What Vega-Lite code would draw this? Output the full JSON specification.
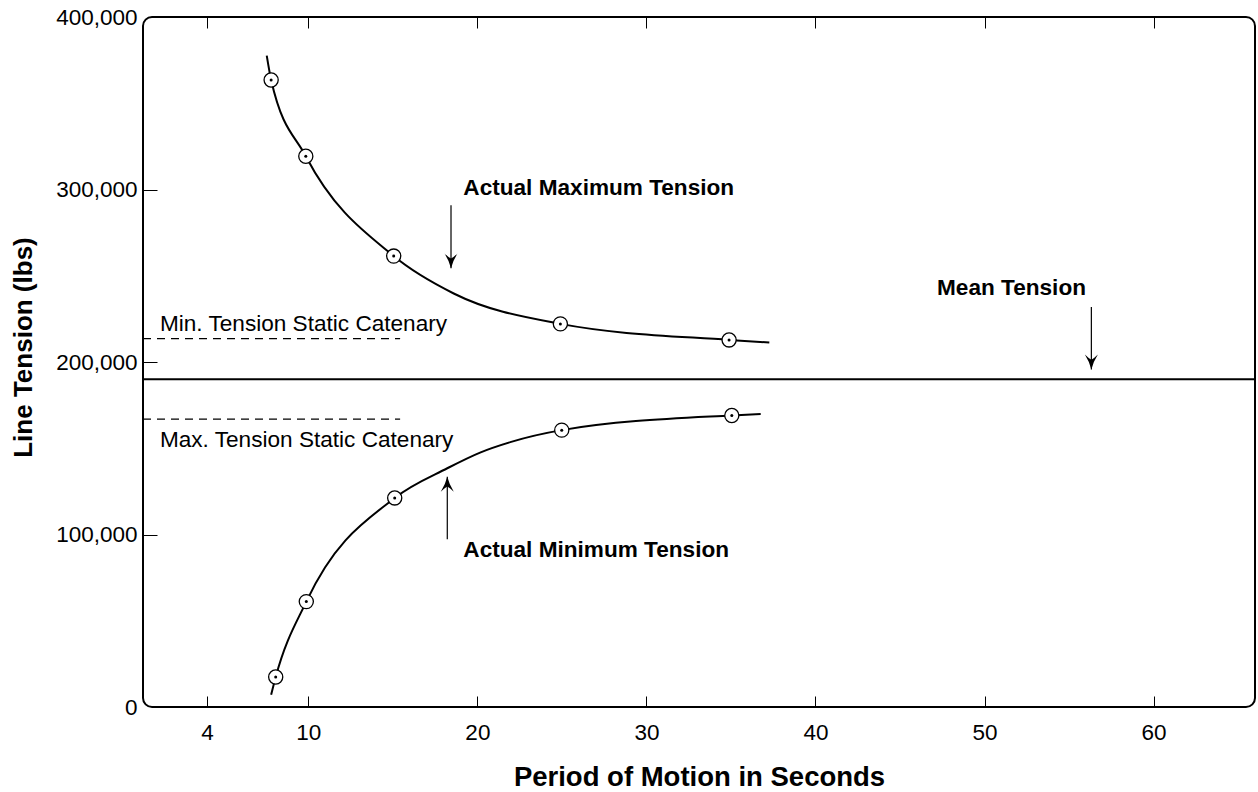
{
  "$schema": "https://vega.github.io/schema/vega-lite/v6.json",
  "width": 1112,
  "height": 690,
  "autosize": {"type": "none"},
  "padding": {"left": 143, "top": 17, "right": 3, "bottom": 85},
  "background": "white",
  "config": {
    "font": "Liberation Sans",
    "view": {"stroke": "#000", "strokeWidth": 2, "cornerRadius": 9},
    "axis": {"grid": false, "domain": false, "tickColor": "#000", "labelColor": "#000", "titleColor": "#000"}
  },
  "datasets": {
    "curves": [
      {"series": "Actual Maximum Tension", "t": 7.54, "lbs": 377600, "measured": false},
      {"series": "Actual Maximum Tension", "t": 7.8, "lbs": 363500, "measured": true},
      {"series": "Actual Maximum Tension", "t": 9.85, "lbs": 319300, "measured": true},
      {"series": "Actual Maximum Tension", "t": 15.05, "lbs": 261400, "measured": true},
      {"series": "Actual Maximum Tension", "t": 18.6, "lbs": 239700, "measured": false},
      {"series": "Actual Maximum Tension", "t": 24.91, "lbs": 222100, "measured": true},
      {"series": "Actual Maximum Tension", "t": 34.89, "lbs": 212800, "measured": true},
      {"series": "Actual Maximum Tension", "t": 37.27, "lbs": 211300, "measured": false},
      {"series": "Actual Minimum Tension", "t": 7.8, "lbs": 7100, "measured": false},
      {"series": "Actual Minimum Tension", "t": 8.07, "lbs": 17400, "measured": true},
      {"series": "Actual Minimum Tension", "t": 9.88, "lbs": 61100, "measured": true},
      {"series": "Actual Minimum Tension", "t": 15.11, "lbs": 121200, "measured": true},
      {"series": "Actual Minimum Tension", "t": 18.22, "lbs": 138400, "measured": false},
      {"series": "Actual Minimum Tension", "t": 20.16, "lbs": 147500, "measured": false},
      {"series": "Actual Minimum Tension", "t": 22.0, "lbs": 153700, "measured": false},
      {"series": "Actual Minimum Tension", "t": 24.99, "lbs": 160500, "measured": true},
      {"series": "Actual Minimum Tension", "t": 35.05, "lbs": 169000, "measured": true},
      {"series": "Actual Minimum Tension", "t": 36.76, "lbs": 169800, "measured": false}
    ],
    "static": [
      {"name": "Min. Tension Static Catenary", "t": 0.22, "t2": 15.43, "lbs": 213600},
      {"name": "Max. Tension Static Catenary", "t": 0.22, "t2": 15.43, "lbs": 166900}
    ],
    "mean": [{"name": "Mean Tension", "lbs": 190000}],
    "arrows": [
      {"target": "Actual Maximum Tension", "t": 18.44, "from": 290800, "to": 254300, "dir": "down"},
      {"target": "Mean Tension", "t": 56.32, "from": 231900, "to": 195700, "dir": "down"},
      {"target": "Actual Minimum Tension", "t": 18.22, "from": 97250, "to": 133500, "dir": "up"}
    ],
    "callouts": [
      {"label": "Actual Maximum Tension", "t": 19.17, "lbs": 296600},
      {"label": "Mean Tension", "t": 47.19, "lbs": 238800},
      {"label": "Actual Minimum Tension", "t": 19.17, "lbs": 86830}
    ],
    "staticLabels": [
      {"label": "Min. Tension Static Catenary", "t": 1.22, "lbs": 218000},
      {"label": "Max. Tension Static Catenary", "t": 1.22, "lbs": 150850}
    ]
  },
  "resolve": {"axis": {"x": "independent"}},
  "layer": [
    {
      "data": {"name": "curves"},
      "mark": {"type": "line", "interpolate": "monotone", "color": "#000", "strokeWidth": 2},
      "encoding": {
        "x": {
          "field": "t", "type": "quantitative",
          "scale": {"domain": [0.22, 66.0], "nice": false, "zero": false},
          "axis": {
            "orient": "bottom", "values": [4, 10, 20, 30, 40, 50, 60],
            "tickSize": -11, "tickWidth": 1, "labelFontSize": 22.5, "labelPadding": 25,
            "title": "Period of Motion in Seconds", "titleFontSize": 27.5, "titleFontWeight": "bold",
            "titleX": 556, "titleY": 70, "titleBaseline": "middle", "titleAlign": "center"
          }
        },
        "y": {
          "field": "lbs", "type": "quantitative",
          "scale": {"domain": [0, 400000], "nice": false},
          "axis": {
            "values": [0, 100000, 200000, 300000, 400000],
            "labelExpr": "format(datum.value, ',')",
            "tickSize": -14, "tickWidth": 1,
            "tickOpacity": {"condition": {"test": "datum.value === 0 || datum.value === 400000", "value": 0}, "value": 1},
            "labelFontSize": 22.5, "labelPadding": 20,
            "title": "Line Tension (lbs)", "titleFontSize": 26, "titleFontWeight": "bold",
            "titleX": -120, "titleY": 330, "titleBaseline": "middle", "titleAlign": "center"
          }
        },
        "detail": {"field": "series"}
      }
    },
    {
      "data": {"name": "static"},
      "mark": {"type": "rule", "color": "#000", "strokeWidth": 1.3, "strokeDash": [8, 6]},
      "encoding": {
        "x": {"field": "t", "type": "quantitative", "axis": null},
        "x2": {"field": "t2"},
        "y": {"field": "lbs", "type": "quantitative"}
      }
    },
    {
      "data": {"name": "mean"},
      "mark": {"type": "rule", "color": "#000", "strokeWidth": 2},
      "encoding": {
        "y": {"field": "lbs", "type": "quantitative"}
      }
    },
    {
      "data": {"name": "curves"},
      "transform": [{"filter": "datum.measured"}],
      "mark": {"type": "point", "shape": "circle", "fill": "#fff", "stroke": "#000", "strokeWidth": 1.3, "size": 200, "opacity": 1, "fillOpacity": 1},
      "encoding": {
        "x": {
          "field": "t", "type": "quantitative",
          "axis": {"orient": "top", "values": [4, 10, 20, 30, 40, 50, 60], "tickSize": -11, "tickWidth": 1, "labels": false, "title": null}
        },
        "y": {"field": "lbs", "type": "quantitative"}
      }
    },
    {
      "data": {"name": "curves"},
      "transform": [{"filter": "datum.measured"}],
      "mark": {"type": "point", "shape": "circle", "filled": true, "color": "#000", "size": 9, "opacity": 1},
      "encoding": {
        "x": {"field": "t", "type": "quantitative", "axis": null},
        "y": {"field": "lbs", "type": "quantitative"}
      }
    },
    {
      "data": {"name": "arrows"},
      "mark": {"type": "rule", "color": "#000", "strokeWidth": 1.2},
      "encoding": {
        "x": {"field": "t", "type": "quantitative", "axis": null},
        "y": {"field": "from", "type": "quantitative"},
        "y2": {"field": "to"}
      }
    },
    {
      "data": {"name": "arrows"},
      "transform": [{"filter": "datum.dir === 'down'"}],
      "mark": {"type": "point", "shape": "M0,0 Q-0.3,-1.2 -1,-2.3 Q-0.4,-1.7 0,-1.5 Q0.4,-1.7 1,-2.3 Q0.3,-1.2 0,0 Z", "filled": true, "color": "#000", "size": 169, "opacity": 1, "strokeWidth": 0},
      "encoding": {
        "x": {"field": "t", "type": "quantitative", "axis": null},
        "y": {"field": "to", "type": "quantitative"}
      }
    },
    {
      "data": {"name": "arrows"},
      "transform": [{"filter": "datum.dir === 'up'"}],
      "mark": {"type": "point", "shape": "M0,0 Q-0.3,-1.2 -1,-2.3 Q-0.4,-1.7 0,-1.5 Q0.4,-1.7 1,-2.3 Q0.3,-1.2 0,0 Z", "angle": 180, "filled": true, "color": "#000", "size": 169, "opacity": 1, "strokeWidth": 0},
      "encoding": {
        "x": {"field": "t", "type": "quantitative", "axis": null},
        "y": {"field": "to", "type": "quantitative"}
      }
    },
    {
      "data": {"name": "callouts"},
      "mark": {"type": "text", "align": "left", "baseline": "alphabetic", "fontSize": 22.6, "fontWeight": "bold", "color": "#000"},
      "encoding": {
        "x": {"field": "t", "type": "quantitative", "axis": null},
        "y": {"field": "lbs", "type": "quantitative"},
        "text": {"field": "label"}
      }
    },
    {
      "data": {"name": "staticLabels"},
      "mark": {"type": "text", "align": "left", "baseline": "alphabetic", "fontSize": 22.6, "color": "#000"},
      "encoding": {
        "x": {"field": "t", "type": "quantitative", "axis": null},
        "y": {"field": "lbs", "type": "quantitative"},
        "text": {"field": "label"}
      }
    }
  ]
}
